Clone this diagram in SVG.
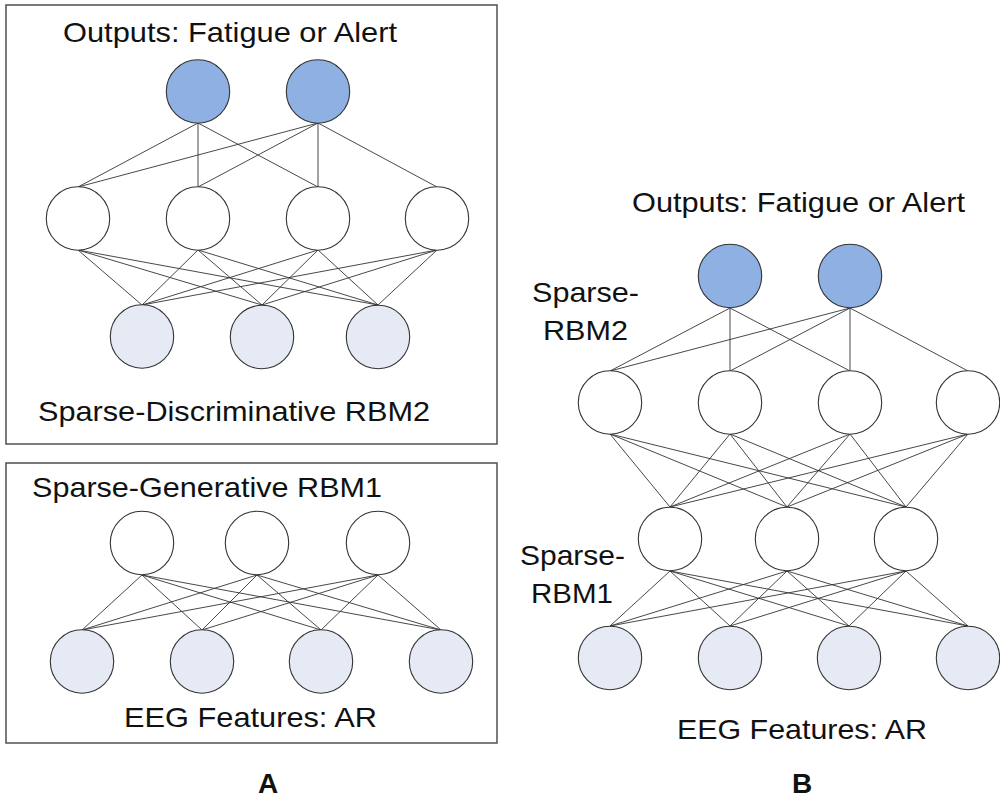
<svg xmlns="http://www.w3.org/2000/svg" width="1000" height="802" viewBox="0 0 1000 802">
<style>
.box{fill:none;stroke:#5a5a5a;stroke-width:1.6}
.out{fill:#8EB0E2;stroke:#333;stroke-width:1.1}
.hid{fill:#fff;stroke:#333;stroke-width:1.1}
.vis{fill:#E6EAF5;stroke:#333;stroke-width:1.1}
.lbl{font-family:"Liberation Sans",Arial,sans-serif;font-size:28px;fill:#111}
.big{font-family:"Liberation Sans",Arial,sans-serif;font-size:28px;font-weight:bold;fill:#111;text-anchor:middle}
#connectors line{stroke:#333;stroke-width:0.9}
</style>
<rect width="1000" height="802" fill="#fff"/>
<g id="panelA-boxes">
<rect class="box" x="6" y="5" width="491" height="439"/>
<rect class="box" x="6" y="463" width="491" height="280"/>
</g>
<g id="connectors">
<!-- A: outputs to hidden2 -->
<line x1="198" y1="123" x2="78" y2="187"/>
<line x1="198" y1="123" x2="198" y2="187"/>
<line x1="198" y1="123" x2="318" y2="187"/>
<line x1="318" y1="123" x2="78" y2="187"/>
<line x1="318" y1="123" x2="198" y2="187"/>
<line x1="318" y1="123" x2="318" y2="187"/>
<line x1="318" y1="123" x2="437" y2="187"/>
<!-- A: hidden2 to bottom -->
<line x1="78" y1="250" x2="142" y2="305"/>
<line x1="78" y1="250" x2="262" y2="305"/>
<line x1="78" y1="250" x2="378" y2="305"/>
<line x1="198" y1="250" x2="142" y2="305"/>
<line x1="198" y1="250" x2="262" y2="305"/>
<line x1="198" y1="250" x2="378" y2="305"/>
<line x1="318" y1="250" x2="142" y2="305"/>
<line x1="318" y1="250" x2="262" y2="305"/>
<line x1="318" y1="250" x2="378" y2="305"/>
<line x1="437" y1="250" x2="142" y2="305"/>
<line x1="437" y1="250" x2="262" y2="305"/>
<line x1="437" y1="250" x2="378" y2="305"/>
<!-- A: RBM1 -->
<line x1="142" y1="575" x2="82" y2="630"/>
<line x1="142" y1="575" x2="202" y2="630"/>
<line x1="142" y1="575" x2="321" y2="630"/>
<line x1="142" y1="575" x2="441" y2="630"/>
<line x1="257" y1="575" x2="82" y2="630"/>
<line x1="257" y1="575" x2="202" y2="630"/>
<line x1="257" y1="575" x2="321" y2="630"/>
<line x1="257" y1="575" x2="441" y2="630"/>
<line x1="378" y1="575" x2="82" y2="630"/>
<line x1="378" y1="575" x2="202" y2="630"/>
<line x1="378" y1="575" x2="321" y2="630"/>
<line x1="378" y1="575" x2="441" y2="630"/>
<!-- B: outputs to hidden2 -->
<line x1="730" y1="308" x2="610" y2="371"/>
<line x1="730" y1="308" x2="730" y2="371"/>
<line x1="730" y1="308" x2="850" y2="371"/>
<line x1="850" y1="308" x2="610" y2="371"/>
<line x1="850" y1="308" x2="730" y2="371"/>
<line x1="850" y1="308" x2="850" y2="371"/>
<line x1="850" y1="308" x2="968" y2="371"/>
<!-- B: hidden2 to hidden1 -->
<line x1="610" y1="434" x2="670" y2="507"/>
<line x1="610" y1="434" x2="787" y2="507"/>
<line x1="610" y1="434" x2="906" y2="507"/>
<line x1="730" y1="434" x2="670" y2="507"/>
<line x1="730" y1="434" x2="787" y2="507"/>
<line x1="730" y1="434" x2="906" y2="507"/>
<line x1="850" y1="434" x2="670" y2="507"/>
<line x1="850" y1="434" x2="787" y2="507"/>
<line x1="850" y1="434" x2="906" y2="507"/>
<line x1="968" y1="434" x2="670" y2="507"/>
<line x1="968" y1="434" x2="787" y2="507"/>
<line x1="968" y1="434" x2="906" y2="507"/>
<!-- B: hidden1 to visible -->
<line x1="670" y1="571" x2="610" y2="626"/>
<line x1="670" y1="571" x2="730" y2="626"/>
<line x1="670" y1="571" x2="849" y2="626"/>
<line x1="670" y1="571" x2="968" y2="626"/>
<line x1="787" y1="571" x2="610" y2="626"/>
<line x1="787" y1="571" x2="730" y2="626"/>
<line x1="787" y1="571" x2="849" y2="626"/>
<line x1="787" y1="571" x2="968" y2="626"/>
<line x1="906" y1="571" x2="610" y2="626"/>
<line x1="906" y1="571" x2="730" y2="626"/>
<line x1="906" y1="571" x2="849" y2="626"/>
<line x1="906" y1="571" x2="968" y2="626"/>
</g>
<g id="A-out1"><circle class="out" cx="198" cy="91.5" r="31.7"/></g>
<g id="A-out2"><circle class="out" cx="318" cy="91.5" r="31.7"/></g>
<g id="A-h2-1"><circle class="hid" cx="78" cy="218.5" r="31.7"/></g>
<g id="A-h2-2"><circle class="hid" cx="198" cy="218.5" r="31.7"/></g>
<g id="A-h2-3"><circle class="hid" cx="318" cy="218.5" r="31.7"/></g>
<g id="A-h2-4"><circle class="hid" cx="437" cy="218.5" r="31.7"/></g>
<g id="A-v2-1"><circle class="vis" cx="142" cy="336.5" r="31.7"/></g>
<g id="A-v2-2"><circle class="vis" cx="262" cy="337" r="31.7"/></g>
<g id="A-v2-3"><circle class="vis" cx="378" cy="337" r="31.7"/></g>
<g id="A-h1-1"><circle class="hid" cx="142" cy="543" r="31.7"/></g>
<g id="A-h1-2"><circle class="hid" cx="257" cy="543" r="31.7"/></g>
<g id="A-h1-3"><circle class="hid" cx="378" cy="543" r="31.7"/></g>
<g id="A-v1-1"><circle class="vis" cx="82" cy="661.5" r="31.7"/></g>
<g id="A-v1-2"><circle class="vis" cx="202" cy="661.5" r="31.7"/></g>
<g id="A-v1-3"><circle class="vis" cx="321" cy="661.5" r="31.7"/></g>
<g id="A-v1-4"><circle class="vis" cx="441" cy="661.5" r="31.7"/></g>
<g id="B-out1"><circle class="out" cx="730" cy="276" r="31.7"/></g>
<g id="B-out2"><circle class="out" cx="850" cy="276" r="31.7"/></g>
<g id="B-h2-1"><circle class="hid" cx="610" cy="402.5" r="31.7"/></g>
<g id="B-h2-2"><circle class="hid" cx="730" cy="402.5" r="31.7"/></g>
<g id="B-h2-3"><circle class="hid" cx="850" cy="402.5" r="31.7"/></g>
<g id="B-h2-4"><circle class="hid" cx="968" cy="402.5" r="31.7"/></g>
<g id="B-h1-1"><circle class="hid" cx="670" cy="539" r="31.7"/></g>
<g id="B-h1-2"><circle class="hid" cx="787" cy="539" r="31.7"/></g>
<g id="B-h1-3"><circle class="hid" cx="906" cy="539" r="31.7"/></g>
<g id="B-v-1"><circle class="vis" cx="610" cy="658" r="31.7"/></g>
<g id="B-v-2"><circle class="vis" cx="730" cy="658" r="31.7"/></g>
<g id="B-v-3"><circle class="vis" cx="849" cy="658" r="31.7"/></g>
<g id="B-v-4"><circle class="vis" cx="968" cy="658" r="31.7"/></g>
<g id="labels">
<text class="lbl" x="63" y="42" textLength="334" lengthAdjust="spacingAndGlyphs">Outputs: Fatigue or Alert</text>
<text class="lbl" x="38" y="421" textLength="392" lengthAdjust="spacingAndGlyphs">Sparse-Discriminative RBM2</text>
<text class="lbl" x="32" y="497" textLength="350" lengthAdjust="spacingAndGlyphs">Sparse-Generative RBM1</text>
<text class="lbl" x="124" y="727" textLength="253" lengthAdjust="spacingAndGlyphs">EEG Features: AR</text>
<text class="big" x="268" y="793">A</text>
<text class="lbl" x="632" y="212" textLength="333" lengthAdjust="spacingAndGlyphs">Outputs: Fatigue or Alert</text>
<text class="lbl" x="532" y="302" textLength="107" lengthAdjust="spacingAndGlyphs">Sparse-</text>
<text class="lbl" x="543" y="340" textLength="85" lengthAdjust="spacingAndGlyphs">RBM2</text>
<text class="lbl" x="520" y="565" textLength="105" lengthAdjust="spacingAndGlyphs">Sparse-</text>
<text class="lbl" x="531" y="603" textLength="82" lengthAdjust="spacingAndGlyphs">RBM1</text>
<text class="lbl" x="677" y="739" textLength="250" lengthAdjust="spacingAndGlyphs">EEG Features: AR</text>
<text class="big" x="802" y="793">B</text>
</g>
</svg>
